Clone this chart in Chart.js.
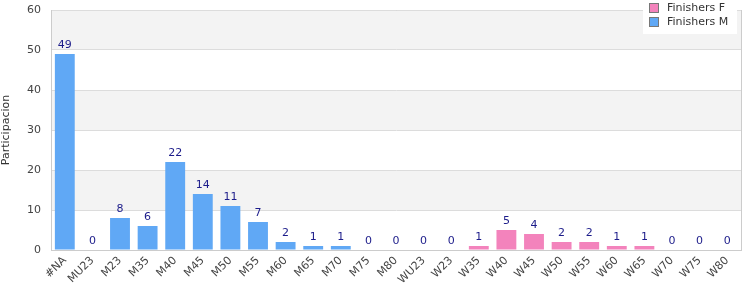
<!DOCTYPE html>
<html>
<head>
<meta charset="utf-8">
<script src="https://cdn.jsdelivr.net/npm/chart.js@4"></script>
<style>
  body { margin: 0; background: #fff; }
</style>
</head>
<body>
<canvas id="chart" width="750" height="300"></canvas>
<script>
// categories and values
const categories = ["#NA", "MU23", "M23", "M35", "M40", "M45", "M50", "M55", "M60", "M65", "M70", "M75", "M80",
                    "WU23", "W23", "W35", "W40", "W45", "W50", "W55", "W60", "W65", "W70", "W75", "W80"];
const finishersF = [null, null, null, null, null, null, null, null, null, null, null, null, null,
                    0, 0, 1, 5, 4, 2, 2, 1, 1, 0, 0, 0];
const finishersM = [49, 0, 8, 6, 22, 14, 11, 7, 2, 1, 1, 0, 0,
                    null, null, null, null, null, null, null, null, null, null, null, null];
const yTicks = [0, 10, 20, 30, 40, 50, 60];

const font = "DejaVu Sans";

// alternating background bands
const bands = {
  id: "bands",
  beforeDraw(c) {
    const { ctx, chartArea: a, scales: { y } } = c;
    ctx.save();
    ctx.fillStyle = "#f3f3f3";
    for (let i = 1; i < yTicks.length - 1; i += 2) {
      const top = y.getPixelForValue(yTicks[i + 1]);
      const bot = y.getPixelForValue(yTicks[i]);
      ctx.fillRect(a.left, top, a.right - a.left, bot - top);
    }
    ctx.strokeStyle = "#ccc";
    ctx.lineWidth = 1;
    ctx.strokeRect(a.left + 0.5, a.top + 0.5, a.right - a.left, a.bottom - a.top);
    ctx.restore();
  }
};

// value labels above bars + legend box
const labels = {
  id: "labels",
  afterDraw(c) {
    const ctx = c.ctx;
    ctx.save();
    ctx.font = "11px " + font;
    ctx.fillStyle = "#1c1c8a";
    ctx.textAlign = "center";
    ctx.textBaseline = "bottom";
    c.data.datasets.forEach((ds, di) => {
      c.getDatasetMeta(di).data.forEach((bar, i) => {
        const v = ds.data[i];
        if (v === null) return;
        ctx.fillText(String(v), bar.x, bar.y - 3);
      });
    });

    // legend
    const bx = 643, by = 0, bw = 94, bh = 34;
    ctx.fillStyle = "#fff";
    ctx.fillRect(bx, by, bw, bh);
    ctx.textAlign = "left";
    ctx.textBaseline = "middle";
    c.data.datasets.forEach((ds, di) => {
      const yy = 8 + di * 14;
      ctx.fillStyle = ds.backgroundColor;
      ctx.fillRect(bx + 7, yy - 4, 8, 8);
      ctx.strokeStyle = "#777";
      ctx.lineWidth = 1;
      ctx.strokeRect(bx + 6.5, yy - 4.5, 9, 9);
      ctx.fillStyle = "#333";
      ctx.fillText(ds.label, bx + 24, yy);
    });
    ctx.restore();
  }
};

new Chart(document.getElementById("chart"), {
  type: "bar",
  data: {
    labels: categories,
    datasets: [
      { label: "Finishers F", data: finishersF, backgroundColor: "#f383bc", grouped: false,
        barPercentage: 0.72, categoryPercentage: 1 },
      { label: "Finishers M", data: finishersM, backgroundColor: "#60a8f5", grouped: false,
        barPercentage: 0.72, categoryPercentage: 1 }
    ]
  },
  options: {
    responsive: false,
    animation: false,
    layout: { padding: { top: 10, right: 9, left: 0, bottom: 0 } },
    plugins: {
      legend: { display: false },
      tooltip: { enabled: false }
    },
    scales: {
      x: {
        grid: { display: false, drawTicks: false },
        border: { color: "#ccc" },
        ticks: {
          font: { family: font, size: 11 }, color: "#444",
          maxRotation: 45, minRotation: 45, autoSkip: false, padding: 4
        },
        afterFit(s) { s.height = 50; s.paddingTop = 0; }
      },
      y: {
        min: 0, max: 60,
        afterBuildTicks(s) { s.ticks = yTicks.map(v => ({ value: v })); },
        grid: { color: "#dcdcdc", drawTicks: false },
        border: { color: "#ccc" },
        ticks: { font: { family: font, size: 11 }, color: "#444", padding: 10 },
        title: { display: true, text: "Participacion", font: { family: font, size: 11 }, color: "#333", padding: 0 },
        afterFit(s) { s.width = 51; s.paddingTop = 0; s.paddingBottom = 0; }
      }
    }
  },
  plugins: [bands, labels]
});
</script>
</body>
</html>
